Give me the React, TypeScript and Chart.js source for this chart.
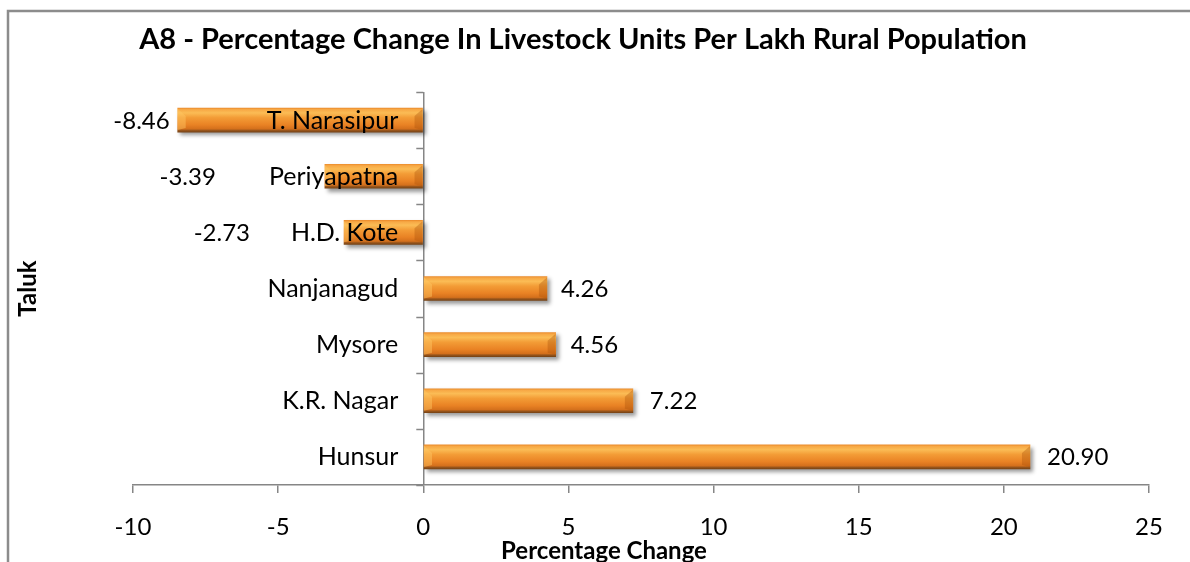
import React, { useEffect, useRef } from 'react';
import { Chart, registerables } from 'chart.js';

Chart.register(...registerables);

// ---- data ----
const taluks = ['T. Narasipur', 'Periyapatna', 'H.D. Kote', 'Nanjanagud', 'Mysore', 'K.R. Nagar', 'Hunsur'];
const changes = [-8.46, -3.39, -2.73, 4.26, 4.56, 7.22, 20.9];
const valueLabels = ['-8.46', '-3.39', '-2.73', '4.26', '4.56', '7.22', '20.90'];
const xMin = -10;
const xMax = 25;
const xStep = 5;
const chartTitle = 'A8 - Percentage Change In Livestock Units Per Lakh Rural Population';
const xTitle = 'Percentage Change';
const yTitle = 'Taluk';

// ---- style ----
const FONT = 'Lato, "Open Sans", sans-serif';
const AXIS = '#868686';
const BAR_H = 24;
const LABEL_GAP = [8, 109, 94, 14, 15, 17, 17];
const TICK_SIZE = 24;
const CAT_SIZE = 25;

export default function App() {
  const ref = useRef<HTMLCanvasElement>(null);

  useEffect(() => {
    document.body.style.margin = '0';
    const canvas = ref.current;
    if (!canvas) return;

    const custom = {
      id: 'custom',
      beforeDraw(chart: any) {
        const ctx = chart.ctx;
        ctx.save();
        ctx.strokeStyle = '#8c8c8c';
        ctx.lineWidth = 2.5;
        ctx.beginPath();
        ctx.moveTo(8, 600);
        ctx.lineTo(8, 11);
        ctx.lineTo(1200, 11);
        ctx.stroke();
        ctx.restore();
      },
      beforeDatasetsDraw(chart: any) {
        const ctx = chart.ctx;
        const xs = chart.scales.x;
        const ys = chart.scales.y;
        const x0 = xs.getPixelForValue(0);
        ctx.save();
        ctx.strokeStyle = AXIS;
        ctx.lineWidth = 1.5;
        for (let i = 0; i <= taluks.length; i++) {
          const y = Math.round(ys.getPixelForValue(i - 0.5)) + 0.5;
          ctx.beginPath();
          ctx.moveTo(x0 - 7, y);
          ctx.lineTo(x0, y);
          ctx.stroke();
        }
        ctx.restore();
        ctx.save();
        ctx.shadowColor = 'rgba(0,0,0,0.4)';
        ctx.shadowBlur = 4;
        ctx.shadowOffsetX = 3;
        ctx.shadowOffsetY = 3;
      },
      afterDatasetsDraw(chart: any) {
        const ctx = chart.ctx;
        ctx.restore();
        const xs = chart.scales.x;
        const ys = chart.scales.y;
        const x0 = xs.getPixelForValue(0);
        const meta = chart.getDatasetMeta(0);
        // bevels
        meta.data.forEach((el: any) => {
          const L = Math.min(el.x, el.base);
          const R = Math.max(el.x, el.base);
          const T = el.y - el.height / 2;
          const B = el.y + el.height / 2;
          const b = Math.min(8, (R - L) / 2);
          ctx.save();
          ctx.fillStyle = 'rgba(255,200,100,0.45)';
          ctx.beginPath();
          ctx.moveTo(L, T + 1);
          ctx.lineTo(L + b, T + b);
          ctx.lineTo(L + b, B - 4);
          ctx.lineTo(L, B - 2);
          ctx.closePath();
          ctx.fill();
          ctx.fillStyle = 'rgba(170,80,10,0.35)';
          ctx.beginPath();
          ctx.moveTo(R, T + 1);
          ctx.lineTo(R - b, T + b);
          ctx.lineTo(R - b, B - 4);
          ctx.lineTo(R, B - 2);
          ctx.closePath();
          ctx.fill();
          ctx.restore();
        });
        // category labels
        ctx.save();
        ctx.fillStyle = '#000';
        ctx.font = `${CAT_SIZE}px ${FONT}`;
        ctx.textBaseline = 'alphabetic';
        ctx.textAlign = 'right';
        taluks.forEach((t, i) => {
          const y = ys.getPixelForValue(i);
          ctx.fillText(t, x0 - 25, y + 8.5);
        });
        // value labels
        ctx.font = `${TICK_SIZE}px ${FONT}`;
        meta.data.forEach((el: any, i: number) => {
          const v = changes[i];
          const gap = LABEL_GAP[i];
          if (v < 0) {
            ctx.textAlign = 'right';
            ctx.fillText(valueLabels[i], el.x - gap, el.y + 8.5);
          } else {
            ctx.textAlign = 'left';
            ctx.fillText(valueLabels[i], el.x + gap, el.y + 8.5);
          }
        });
        ctx.restore();
      },
      afterDraw(chart: any) {
        const ctx = chart.ctx;
        ctx.save();
        ctx.fillStyle = '#000';
        ctx.font = `bold 29px ${FONT}`;
        ctx.textAlign = 'center';
        ctx.textBaseline = 'alphabetic';
        ctx.fillText(chartTitle, 583, 49);
        ctx.font = `bold 24px ${FONT}`;
        ctx.fillText(xTitle, 604, 559);
        ctx.restore();
      },
    };

    const chart = new Chart(canvas, {
      type: 'bar',
      data: {
        labels: taluks,
        datasets: [
          {
            data: changes,
            barThickness: BAR_H,
            borderWidth: 0,
            backgroundColor: (c: any) => {
              const ch = c.chart;
              const ys = ch.scales && ch.scales.y;
              if (!ys || c.dataIndex === undefined || !ch.ctx) return '#EE8F2E';
              const yc = ys.getPixelForValue(c.dataIndex);
              if (!isFinite(yc)) return '#EE8F2E';
              const top = yc - BAR_H / 2;
              const g = ch.ctx.createLinearGradient(0, top, 0, top + BAR_H);
              g.addColorStop(0, '#EC8E2E');
              g.addColorStop(0.06, '#F7A845');
              g.addColorStop(0.2, '#FBBC55');
              g.addColorStop(0.4, '#F39C36');
              g.addColorStop(0.7, '#E98224');
              g.addColorStop(0.87, '#D4701C');
              g.addColorStop(0.93, '#9A561B');
              g.addColorStop(1, '#784416');
              return g;
            },
          },
        ],
      },
      options: {
        indexAxis: 'y',
        animation: false,
        responsive: false,
        events: [],
        layout: { padding: { left: 8, right: 41, top: 92, bottom: 0 } },
        plugins: {
          legend: { display: false },
          title: { display: false },
          tooltip: { enabled: false },
        },
        scales: {
          x: {
            type: 'linear',
            min: xMin,
            max: xMax,
            ticks: {
              stepSize: xStep,
              color: '#000',
              padding: 20,
              font: { family: FONT, size: TICK_SIZE },
            },
            grid: {
              color: (c: any) => (c.tick && c.tick.value === 0 ? AXIS : 'rgba(0,0,0,0)'),
              lineWidth: 1.5,
              tickColor: AXIS,
              tickLength: 8,
            },
            border: { display: true, color: AXIS, width: 1.5 },
            title: { display: false, text: xTitle },
            afterFit: (s: any) => {
              s.height = 77;
            },
          },
          y: {
            type: 'category',
            ticks: { display: false },
            grid: { display: false },
            border: { display: false },
            title: {
              display: true,
              text: yTitle,
              color: '#000',
              font: { family: FONT, size: 24, weight: 'bold', lineHeight: 1 },
              padding: { top: 8, bottom: 0 },
            },
            afterFit: (s: any) => {
              s.width = 125;
            },
          },
        },
      },
      plugins: [custom],
    } as any);

    return () => chart.destroy();
  }, []);

  return (
    <div style={{ width: 1190, height: 562, background: '#fff' }}>
      <canvas ref={ref} width={1190} height={562} style={{ display: 'block' }} />
    </div>
  );
}
